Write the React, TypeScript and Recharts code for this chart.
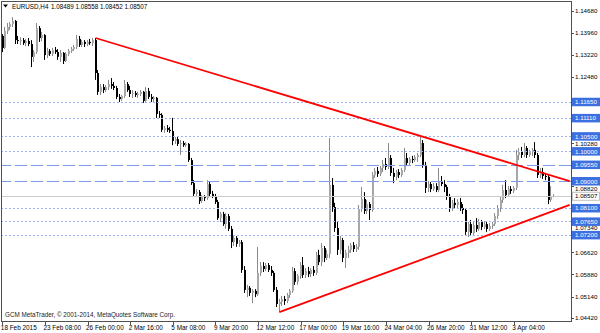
import React from 'react';
import { ComposedChart, Bar, XAxis, YAxis, ReferenceLine } from 'recharts';

// EURUSD H4 candles (18 Feb 2015 20:00 .. 7 Apr 2015)
const opens = [
  1.1385, 1.1345, 1.1401, 1.1415, 1.1425, 1.1435, 1.1371, 1.1368, 1.1371, 1.1361,
  1.1368, 1.1358, 1.1315, 1.1331, 1.1411, 1.1378, 1.1388, 1.1321, 1.1335, 1.1325,
  1.1338, 1.1331, 1.1315, 1.1328, 1.1301, 1.1325, 1.1335, 1.1341, 1.1348, 1.1375,
  1.1355, 1.1365, 1.1358, 1.1365, 1.1361, 1.1371, 1.1261, 1.1198, 1.1214, 1.1204,
  1.1214, 1.1224, 1.1218, 1.1211, 1.1181, 1.1174, 1.1184, 1.1224, 1.1204, 1.1191,
  1.1194, 1.1188, 1.1191, 1.1198, 1.1168, 1.1201, 1.1181, 1.1174, 1.1178, 1.1124,
  1.1121, 1.1071, 1.1077, 1.1071, 1.1067, 1.1034, 1.1040, 1.1024, 1.1027, 1.1020,
  1.1024, 1.0970, 1.0893, 1.0857, 1.0863, 1.0833, 1.0847, 1.0843, 1.0890, 1.0857,
  1.0850, 1.0830, 1.0776, 1.0790, 1.0756, 1.0783, 1.0740, 1.0696, 1.0710, 1.0690,
  1.0696, 1.0603, 1.0536, 1.0543, 1.0526, 1.0533, 1.0522, 1.0593, 1.0616, 1.0606,
  1.0619, 1.0603, 1.0593, 1.0536, 1.0489, 1.0496, 1.0506, 1.0499, 1.0519, 1.0533,
  1.0599, 1.0563, 1.0583, 1.0619, 1.0586, 1.0599, 1.0589, 1.0603, 1.0593, 1.0653,
  1.0629, 1.0676, 1.0643, 1.0656, 1.0887, 1.0813, 1.0743, 1.0670, 1.0703, 1.0643,
  1.0660, 1.0670, 1.0686, 1.0673, 1.0680, 1.0807, 1.0840, 1.0800, 1.0823, 1.0803,
  1.0920, 1.0934, 1.0924, 1.0944, 1.0957, 1.0947, 1.0977, 1.0927, 1.0914, 1.0930,
  1.0920, 1.0937, 1.0977, 1.0960, 1.0974, 1.0970, 1.0980, 1.0987, 1.1027, 1.0954,
  1.0877, 1.0890, 1.0873, 1.0883, 1.0870, 1.0897, 1.0890, 1.0880, 1.0847, 1.0810,
  1.0827, 1.0820, 1.0830, 1.0810, 1.0803, 1.0730, 1.0756, 1.0726, 1.0753, 1.0740,
  1.0763, 1.0746, 1.0756, 1.0740, 1.0750, 1.0756, 1.0783, 1.0810, 1.0837, 1.0870,
  1.0853, 1.0873, 1.0867, 1.0877, 1.0987, 1.0997, 1.0987, 1.1010, 1.0987, 1.0997,
  1.1004, 1.0987, 1.0920, 1.0930, 1.0917, 1.0914, 1.0837, 1.08489,
];
const highs = [
  1.1391, 1.1415, 1.1428, 1.1431, 1.1448, 1.1438, 1.1385, 1.1381, 1.1378, 1.1375,
  1.1378, 1.1371, 1.1338, 1.1428, 1.1418, 1.1398, 1.1391, 1.1345, 1.1341, 1.1345,
  1.1348, 1.1341, 1.1338, 1.1331, 1.1331, 1.1341, 1.1348, 1.1355, 1.1388, 1.1385,
  1.1371, 1.1371, 1.1371, 1.1375, 1.1378, 1.1378, 1.1271, 1.1224, 1.1224, 1.1221,
  1.1238, 1.1244, 1.1231, 1.1218, 1.1191, 1.1188, 1.1238, 1.1231, 1.1218, 1.1204,
  1.1201, 1.1198, 1.1204, 1.1201, 1.1214, 1.1211, 1.1191, 1.1184, 1.1181, 1.1134,
  1.1127, 1.1084, 1.1087, 1.1081, 1.1111, 1.1047, 1.1047, 1.1037, 1.1034, 1.1030,
  1.1027, 1.0977, 1.0903, 1.0873, 1.0870, 1.0853, 1.0853, 1.0903, 1.0897, 1.0867,
  1.0857, 1.0837, 1.0797, 1.0797, 1.0793, 1.0790, 1.0750, 1.0716, 1.0716, 1.0703,
  1.0703, 1.0616, 1.0553, 1.0549, 1.0539, 1.0539, 1.0680, 1.0629, 1.0629, 1.0626,
  1.0626, 1.0616, 1.0599, 1.0546, 1.0506, 1.0516, 1.0516, 1.0526, 1.0539, 1.0613,
  1.0609, 1.0589, 1.0629, 1.0646, 1.0609, 1.0613, 1.0609, 1.0616, 1.0663, 1.0670,
  1.0693, 1.0683, 1.0670, 1.1044, 1.0910, 1.0827, 1.0763, 1.0716, 1.0710, 1.0670,
  1.0683, 1.0693, 1.0696, 1.0690, 1.0820, 1.0880, 1.0863, 1.0837, 1.0830, 1.0930,
  1.0944, 1.0947, 1.0950, 1.0970, 1.0977, 1.1027, 1.0987, 1.0944, 1.0937, 1.0940,
  1.0944, 1.1010, 1.0994, 1.0980, 1.0984, 1.0987, 1.0994, 1.1054, 1.1037, 1.0964,
  1.0900, 1.0897, 1.0893, 1.0893, 1.0944, 1.0917, 1.0903, 1.0887, 1.0857, 1.0837,
  1.0843, 1.0840, 1.0843, 1.0823, 1.0810, 1.0763, 1.0770, 1.0763, 1.0776, 1.0773,
  1.0770, 1.0766, 1.0763, 1.0760, 1.0763, 1.0793, 1.0820, 1.0847, 1.0887, 1.0903,
  1.0883, 1.0883, 1.0883, 1.1004, 1.1010, 1.1014, 1.1027, 1.1017, 1.1004, 1.1010,
  1.1030, 1.0994, 1.0944, 1.0944, 1.0927, 1.0920, 1.0883, 1.08558,
];
const lows = [
  1.1331, 1.1341, 1.1391, 1.1405, 1.1415, 1.1358, 1.1358, 1.1355, 1.1355, 1.1351,
  1.1351, 1.1281, 1.1298, 1.1325, 1.1365, 1.1368, 1.1305, 1.1311, 1.1318, 1.1318,
  1.1325, 1.1305, 1.1298, 1.1291, 1.1298, 1.1318, 1.1328, 1.1335, 1.1341, 1.1348,
  1.1348, 1.1348, 1.1351, 1.1355, 1.1351, 1.1238, 1.1188, 1.1188, 1.1194, 1.1198,
  1.1204, 1.1208, 1.1204, 1.1174, 1.1164, 1.1168, 1.1178, 1.1198, 1.1181, 1.1178,
  1.1181, 1.1178, 1.1184, 1.1161, 1.1164, 1.1174, 1.1164, 1.1164, 1.1111, 1.1111,
  1.1064, 1.1061, 1.1064, 1.1061, 1.1020, 1.1024, 1.1017, 1.0987, 1.1014, 1.1014,
  1.0964, 1.0887, 1.0847, 1.0847, 1.0823, 1.0827, 1.0833, 1.0837, 1.0847, 1.0843,
  1.0823, 1.0770, 1.0763, 1.0750, 1.0740, 1.0733, 1.0676, 1.0683, 1.0680, 1.0680,
  1.0593, 1.0526, 1.0512, 1.0516, 1.0492, 1.0512, 1.0516, 1.0583, 1.0596, 1.0599,
  1.0596, 1.0583, 1.0529, 1.0479, 1.0462, 1.0482, 1.0486, 1.0492, 1.0509, 1.0526,
  1.0553, 1.0553, 1.0573, 1.0576, 1.0576, 1.0579, 1.0579, 1.0583, 1.0586, 1.0619,
  1.0616, 1.0629, 1.0636, 1.0643, 1.0797, 1.0730, 1.0653, 1.0656, 1.0629, 1.0609,
  1.0643, 1.0660, 1.0663, 1.0663, 1.0670, 1.0797, 1.0790, 1.0790, 1.0770, 1.0797,
  1.0910, 1.0914, 1.0917, 1.0930, 1.0937, 1.0940, 1.0917, 1.0893, 1.0903, 1.0910,
  1.0914, 1.0930, 1.0950, 1.0954, 1.0960, 1.0964, 1.0964, 1.0980, 1.0944, 1.0860,
  1.0863, 1.0863, 1.0867, 1.0863, 1.0863, 1.0883, 1.0863, 1.0837, 1.0797, 1.0800,
  1.0810, 1.0807, 1.0800, 1.0790, 1.0720, 1.0713, 1.0716, 1.0720, 1.0730, 1.0733,
  1.0736, 1.0740, 1.0730, 1.0733, 1.0740, 1.0750, 1.0773, 1.0797, 1.0827, 1.0843,
  1.0847, 1.0857, 1.0860, 1.0870, 1.0970, 1.0977, 1.0980, 1.0977, 1.0980, 1.0984,
  1.0977, 1.0910, 1.0910, 1.0907, 1.0903, 1.0823, 1.0830, 1.08452,
];
const closes = [
  1.1345, 1.1401, 1.1415, 1.1425, 1.1435, 1.1371, 1.1368, 1.1371, 1.1361, 1.1368,
  1.1358, 1.1315, 1.1331, 1.1411, 1.1378, 1.1388, 1.1321, 1.1335, 1.1325, 1.1338,
  1.1331, 1.1315, 1.1328, 1.1301, 1.1325, 1.1335, 1.1341, 1.1348, 1.1375, 1.1355,
  1.1365, 1.1358, 1.1365, 1.1361, 1.1371, 1.1261, 1.1198, 1.1214, 1.1204, 1.1214,
  1.1224, 1.1218, 1.1211, 1.1181, 1.1174, 1.1184, 1.1224, 1.1204, 1.1191, 1.1194,
  1.1188, 1.1191, 1.1198, 1.1168, 1.1201, 1.1181, 1.1174, 1.1178, 1.1124, 1.1121,
  1.1071, 1.1077, 1.1071, 1.1067, 1.1034, 1.1040, 1.1024, 1.1027, 1.1020, 1.1024,
  1.0970, 1.0893, 1.0857, 1.0863, 1.0833, 1.0847, 1.0843, 1.0890, 1.0857, 1.0850,
  1.0830, 1.0776, 1.0790, 1.0756, 1.0783, 1.0740, 1.0696, 1.0710, 1.0690, 1.0696,
  1.0603, 1.0536, 1.0543, 1.0526, 1.0533, 1.0522, 1.0593, 1.0616, 1.0606, 1.0619,
  1.0603, 1.0593, 1.0536, 1.0489, 1.0496, 1.0506, 1.0499, 1.0519, 1.0533, 1.0599,
  1.0563, 1.0583, 1.0619, 1.0586, 1.0599, 1.0589, 1.0603, 1.0593, 1.0653, 1.0629,
  1.0676, 1.0643, 1.0656, 1.0887, 1.0813, 1.0743, 1.0670, 1.0703, 1.0643, 1.0660,
  1.0670, 1.0686, 1.0673, 1.0680, 1.0807, 1.0840, 1.0800, 1.0823, 1.0803, 1.0920,
  1.0934, 1.0924, 1.0944, 1.0957, 1.0947, 1.0977, 1.0927, 1.0914, 1.0930, 1.0920,
  1.0937, 1.0977, 1.0960, 1.0974, 1.0970, 1.0980, 1.0987, 1.1027, 1.0954, 1.0877,
  1.0890, 1.0873, 1.0883, 1.0870, 1.0897, 1.0890, 1.0880, 1.0847, 1.0810, 1.0827,
  1.0820, 1.0830, 1.0810, 1.0803, 1.0730, 1.0756, 1.0726, 1.0753, 1.0740, 1.0763,
  1.0746, 1.0756, 1.0740, 1.0750, 1.0756, 1.0783, 1.0810, 1.0837, 1.0870, 1.0853,
  1.0873, 1.0867, 1.0877, 1.0987, 1.0997, 1.0987, 1.1010, 1.0987, 1.0997, 1.1004,
  1.0987, 1.0920, 1.0930, 1.0917, 1.0914, 1.0837, 1.0849, 1.08507,
];

// time axis: one label every 16 bars
const timeTickIndex = [0, 16, 32, 48, 64, 80, 96, 112, 128, 144, 160, 176, 192];
const timeLabels = [
  '18 Feb 2015', '23 Feb 08:00', '26 Feb 00:00', '2 Mar 16:00', '5 Mar 08:00',
  '9 Mar 20:00', '12 Mar 12:00', '17 Mar 00:00', '19 Mar 16:00', '24 Mar 04:00',
  '26 Mar 20:00', '31 Mar 12:00', '3 Apr 04:00',
];
const SLOTS = 214; // bars + right-hand chart shift

// price axis (labels hidden under the level boxes are left out)
const priceTicks = [
  1.1468, 1.1396, 1.1322, 1.1248, 1.1028, 1.0882, 1.0734, 1.0662, 1.0588, 1.0514, 1.0442,
];
const dottedLevels = [1.1165, 1.1111, 1.105, 1.1, 1.081, 1.0765, 1.072];
const dashedLevels = [1.0955, 1.09];
const bidPrice = 1.08507;
const priceDomain = [1.04322, 1.15017];

// trend lines (bar index, price)
const upperTrend = [{ x: 35, y: 1.1378 }, { x: 213, y: 1.09 }];
const lowerTrend = [{ x: 104, y: 1.0462 }, { x: 213, y: 1.082 }];

const FONT = '"Liberation Sans", Arial, sans-serif';
const LEVEL_BLUE = '#3c6fe0';
const DOT_BLUE = '#9cb1f0';
const DASH_BLUE = '#7f9be6';
const PLOT_H = 320;

const data = Array.from({ length: SLOTS }, (_, i) =>
  i < closes.length
    ? { i, range: [lows[i], highs[i]], o: opens[i], h: highs[i], l: lows[i], c: closes[i] }
    : { i, range: null }
);

const Candle = (props: any) => {
  const { x, y, width, height, payload } = props;
  if (!payload || payload.o == null || x == null) return null;
  const { o, h, l, c } = payload;
  const top = Math.min(y, y + height);
  const hh = Math.abs(height);
  const span = h - l;
  const py = (v: number) => (span > 0 ? top + ((h - v) / span) * hh : top);
  const left = Math.round(x + width / 2 - 1);
  const bull = c >= o;
  const bTop = Math.min(py(o), py(c));
  const bH = Math.max(1, Math.abs(py(o) - py(c)));
  return (
    <g>
      <rect x={left} y={top} width={1} height={Math.max(1, hh)} fill={bull ? '#8a8a8a' : '#000'} />
      <rect x={left} y={bTop} width={2} height={bH} fill={bull ? '#a8a8a8' : '#000'} />
    </g>
  );
};

const TimeTick = (props: any) => {
  const { x, y, payload } = props;
  const k = timeTickIndex.indexOf(payload.value);
  if (k < 0) return null;
  return (
    <g>
      <line x1={Math.round(x) + 0.5} x2={Math.round(x) + 0.5} y1={y} y2={y + 4} stroke="#505050" />
      <text x={x - 1.5} y={y + 8.5} fontSize={6.4} fontFamily={FONT} fill="#000">
        {timeLabels[k]}
      </text>
    </g>
  );
};

const boxLevels = [...dottedLevels, ...dashedLevels];

const PriceTick = (props: any) => {
  const { x, y, payload } = props;
  const v: number = payload.value;
  const label = v.toFixed(5);
  const isLevel = boxLevels.includes(v);
  const isBid = v === bidPrice;
  if (isLevel) {
    return (
      <g>
        <rect x={x + 1} y={y - 4} width={28} height={8.5} fill={LEVEL_BLUE} />
        <text x={x + 4} y={y + 2.5} fontSize={6.2} fontFamily={FONT} fill="#fff">{label}</text>
      </g>
    );
  }
  if (isBid) {
    return (
      <g>
        <rect x={x + 1.5} y={y - 3.5} width={27} height={8} fill="#fff" stroke="#c0c0c0" />
        <text x={x + 4} y={y + 2.5} fontSize={6.2} fontFamily={FONT} fill="#000">{label}</text>
      </g>
    );
  }
  // nudge a plain label away from a neighbouring level box so the texts do not collide
  const pxPerUnit = PLOT_H / (priceDomain[1] - priceDomain[0]);
  let shift = 0;
  boxLevels.forEach((lv) => {
    const d = (lv - v) * pxPerUnit; // >0: box is above the label
    if (Math.abs(d) < 7.5) shift = d > 0 ? 7.5 - d : -(7.5 + d);
  });
  return (
    <g>
      <line x1={x + 1} x2={x + 3} y1={Math.round(y) + 0.5} y2={Math.round(y) + 0.5} stroke="#505050" />
      <text x={x + 4} y={y + 2.3 + shift} fontSize={6.2} fontFamily={FONT} fill="#000">{label}</text>
    </g>
  );
};

const crispH = (color: string, dash?: string) => (p: any) => {
  const yy = Math.round(p.y1) + 0.5;
  return <line x1={p.x1} x2={p.x2} y1={yy} y2={yy} stroke={color} strokeWidth={1} strokeDasharray={dash} />;
};

export default function App() {
  const allTicks = [...priceTicks, bidPrice, ...dottedLevels, ...dashedLevels];
  return (
    <div style={{ position: 'absolute', left: 0, top: 0, width: 600, height: 333, background: '#fff' }}>
      <ComposedChart
        width={600}
        height={333}
        data={data}
        margin={{ top: 1, right: 0, bottom: 0, left: 1 }}
        barCategoryGap={0}
        barGap={0}
      >
        <XAxis
          dataKey="i"
          type="category"
          ticks={timeTickIndex}
          interval={0}
          tick={<TimeTick />}
          tickLine={false}
          axisLine={false}
          tickSize={0}
          tickMargin={0}
          height={12}
        />
        <YAxis
          orientation="right"
          type="number"
          domain={priceDomain}
          allowDataOverflow
          ticks={allTicks}
          interval={0}
          tick={<PriceTick />}
          tickLine={false}
          axisLine={false}
          tickSize={0}
          tickMargin={0}
          width={29}
        />
        {dottedLevels.map((v) => (
          <ReferenceLine key={'d' + v} y={v} stroke={DOT_BLUE} shape={crispH(DOT_BLUE, '2 2')} />
        ))}
        {dashedLevels.map((v) => (
          <ReferenceLine key={'D' + v} y={v} stroke={DASH_BLUE} shape={crispH(DASH_BLUE, '12 4')} />
        ))}
        <ReferenceLine y={bidPrice} stroke="#cccccc" shape={crispH('#cccccc')} />
        <Bar dataKey="range" shape={<Candle />} isAnimationActive={false} />
        <ReferenceLine segment={upperTrend} stroke="#ff0000" strokeWidth={1.8} />
        <ReferenceLine segment={lowerTrend} stroke="#ff0000" strokeWidth={1.8} />
      </ComposedChart>
      <svg
        width={600}
        height={333}
        style={{ position: 'absolute', left: 0, top: 0, pointerEvents: 'none' }}
      >
        <rect x={1.5} y={1.5} width={570} height={320} fill="none" stroke="#505050" strokeWidth={1} />
        <polygon points="3,4.5 8,4.5 5.5,7.5" fill="#000" />
        <text x={12} y={9} fontSize={6.3} fontFamily={FONT} fill="#000">EURUSD,H4</text>
        <text x={51} y={9} fontSize={6.3} fontFamily={FONT} fill="#000">1.08489 1.08558 1.08452 1.08507</text>
        <text x={5} y={317} fontSize={6.3} fontFamily={FONT} fill="#222">
          GCM MetaTrader, © 2001-2014, MetaQuotes Software Corp.
        </text>
      </svg>
    </div>
  );
}
